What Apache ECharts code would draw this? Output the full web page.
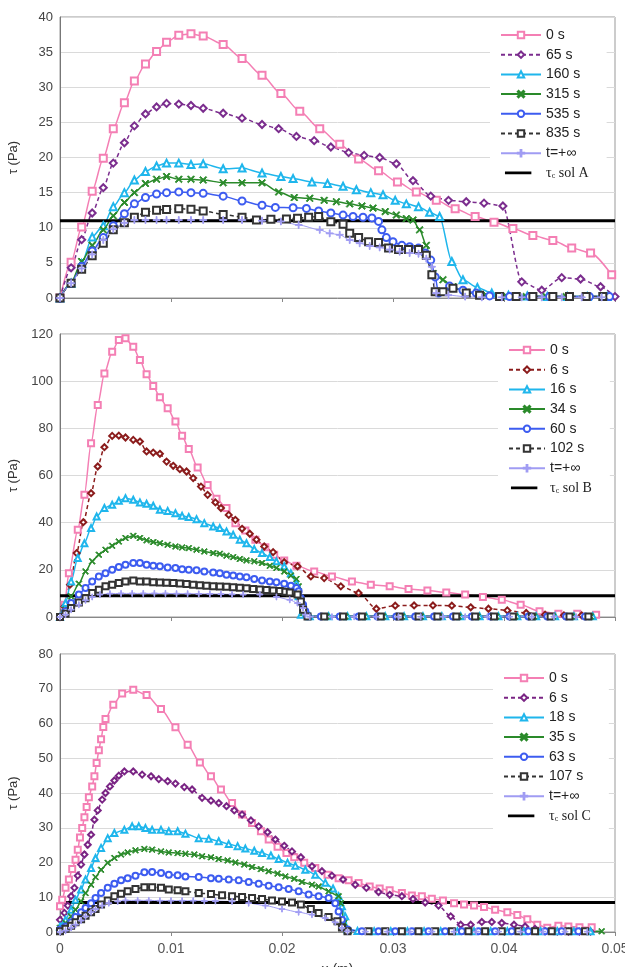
<!DOCTYPE html>
<html>
<head>
<meta charset="utf-8">
<script src="https://cdn.jsdelivr.net/npm/echarts@6/dist/echarts.min.js"></script>
<style>
  html, body { margin: 0; padding: 0; background: #fff; }
  #tauA { width: 625px; height: 310px; }
  #tauB { width: 625px; height: 320px; }
  #tauC { width: 625px; height: 337px; }
</style>
</head>
<body>
<div id="tauA"></div>
<div id="tauB"></div>
<div id="tauC"></div>
<script>
// ---- sol A ---- x (m), tau (Pa)
var namesA = ['0 s', '65 s', '160 s', '315 s', '535 s', '835 s', 't=+∞'];
var a0 = [[0,0],[0.001,5.1],[0.00195,10.1],[0.0029,15.2],[0.0039,19.9],[0.0048,24.1],[0.0058,27.8],[0.0067,30.9],[0.0077,33.3],[0.0087,35.1],[0.0096,36.4],[0.0107,37.4],[0.0118,37.6],[0.0129,37.3],[0.0147,36.1],[0.0164,34.1],[0.0182,31.7],[0.0199,29.1],[0.0216,26.6],[0.0234,24.1],[0.0252,21.9],[0.0269,19.8],[0.0287,18.1],[0.0304,16.5],[0.0321,15.1],[0.0339,13.9],[0.0356,12.7],[0.0374,11.6],[0.0391,10.8],[0.0408,9.9],[0.0426,8.9],[0.0444,8.2],[0.0461,7.1],[0.0478,6.4],[0.0497,3.3]];
var a65 = [[0,0],[0.001,4.3],[0.00195,8.3],[0.0029,12.1],[0.0039,15.7],[0.0048,19.2],[0.0058,22.1],[0.0067,24.5],[0.0077,26.2],[0.0087,27.2],[0.0096,27.7],[0.0107,27.6],[0.0118,27.4],[0.0129,27.0],[0.0147,26.3],[0.0164,25.6],[0.0182,24.7],[0.0197,24.1],[0.0213,23.0],[0.0229,22.4],[0.0244,21.5],[0.026,20.7],[0.0274,20.3],[0.0288,20.0],[0.0303,19.1],[0.0318,16.7],[0.0334,14.5],[0.035,13.9],[0.0366,13.7],[0.0382,13.5],[0.0399,13.1],[0.0416,2.3],[0.0434,1.1],[0.0452,2.9],[0.0469,2.7],[0.0487,1.6],[0.05,0.2]];
var a160 = [[0,0],[0.001,2.1],[0.00195,4.9],[0.0029,8.7],[0.0039,10.3],[0.0048,13.0],[0.0058,15.0],[0.0067,16.8],[0.0077,18.0],[0.0087,18.8],[0.0096,19.2],[0.0107,19.2],[0.0118,19.0],[0.0129,19.1],[0.0147,18.4],[0.0164,18.5],[0.0182,17.8],[0.0199,17.3],[0.021,17.0],[0.0227,16.5],[0.0241,16.3],[0.0255,15.9],[0.0267,15.4],[0.028,15.0],[0.0291,14.7],[0.0302,13.9],[0.0312,13.4],[0.0323,13.0],[0.0333,12.2],[0.0342,11.6],[0.0353,5.2],[0.0363,2.6],[0.0376,1.5],[0.0389,0.7],[0.0404,0.4],[0.0421,0.3],[0.0439,0.2],[0.0457,0.2],[0.0475,0.2],[0.0493,0.2]];
var a315 = [[0,0],[0.001,2.2],[0.00195,5.2],[0.0029,7.5],[0.0039,9.7],[0.0048,11.7],[0.0058,13.6],[0.0067,15.0],[0.0077,16.3],[0.0087,16.9],[0.0096,17.3],[0.0107,16.9],[0.0118,16.9],[0.0129,16.8],[0.0147,16.4],[0.0164,16.4],[0.0182,16.4],[0.0197,15.1],[0.0211,14.3],[0.0225,14.2],[0.0238,13.9],[0.0249,13.7],[0.0261,13.4],[0.0272,13.1],[0.0282,12.8],[0.0293,12.3],[0.0303,11.8],[0.0312,11.3],[0.0318,11.1],[0.0324,9.7],[0.033,7.5],[0.0336,3.5],[0.0345,2.6],[0.0354,1.6],[0.0366,0.8],[0.0384,0.4],[0.0402,0.3],[0.042,0.2],[0.0438,0.2],[0.0456,0.2],[0.0474,0.2],[0.0492,0.2]];
var a535 = [[0,0],[0.001,2.1],[0.00195,4.5],[0.0029,6.7],[0.0039,8.6],[0.0048,10.3],[0.0058,12.0],[0.0067,13.4],[0.0077,14.3],[0.0087,14.8],[0.0096,15.0],[0.0107,15.1],[0.0118,15.0],[0.0129,14.9],[0.0147,14.5],[0.0164,13.8],[0.0182,13.2],[0.0194,12.9],[0.021,12.85],[0.0222,12.75],[0.0233,12.4],[0.0244,12.1],[0.0255,11.8],[0.0264,11.6],[0.0273,11.5],[0.0281,11.4],[0.0287,10.9],[0.029,9.7],[0.0294,8.6],[0.03,8.0],[0.0308,7.5],[0.0315,7.3],[0.0323,7.1],[0.0329,6.4],[0.0334,5.4],[0.0338,3.0],[0.0341,0.7],[0.0351,1.7],[0.0363,1.1],[0.0375,0.7],[0.0387,0.3],[0.0405,0.2],[0.0423,0.2],[0.0441,0.2],[0.0459,0.2],[0.0477,0.2],[0.0495,0.2]];
var a835 = [[0,0],[0.001,2.1],[0.00195,4.1],[0.0029,6.0],[0.0039,7.8],[0.0048,9.7],[0.0058,10.7],[0.0067,11.5],[0.0077,12.2],[0.0087,12.5],[0.0096,12.6],[0.0107,12.7],[0.0118,12.65],[0.0129,12.4],[0.0147,11.9],[0.0164,11.5],[0.0177,11.1],[0.019,11.2],[0.0204,11.25],[0.0214,11.35],[0.0224,11.5],[0.0233,11.6],[0.0244,10.85],[0.0255,10.5],[0.0261,9.2],[0.0269,8.6],[0.0278,8.0],[0.0287,7.9],[0.0296,7.1],[0.0305,6.9],[0.0314,6.9],[0.0323,6.9],[0.033,6.1],[0.0335,3.3],[0.0338,0.9],[0.0345,0.9],[0.0354,1.4],[0.0366,0.7],[0.0378,0.4],[0.0396,0.2],[0.0411,0.2],[0.0426,0.2],[0.0444,0.2],[0.0459,0.2],[0.0474,0.2],[0.0489,0.2]];
var aInf = [[0,0],[0.001,2.1],[0.00195,4.2],[0.0029,6.2],[0.0039,8.25],[0.0048,9.8],[0.0058,10.7],[0.0067,11.1],[0.0077,11.1],[0.0087,11.1],[0.0096,11.1],[0.0107,11.1],[0.0118,11.1],[0.0129,11.1],[0.0147,11.1],[0.0164,11.1],[0.0182,11.0],[0.0199,10.9],[0.0215,10.4],[0.0234,9.7],[0.0243,9.2],[0.0252,9.0],[0.0261,8.25],[0.027,7.8],[0.0279,7.4],[0.0288,7.2],[0.0297,6.9],[0.0306,6.6],[0.0315,6.4],[0.0323,6.3],[0.033,5.6],[0.0335,4.45],[0.0339,0.7],[0.035,0.4],[0.0365,0.2],[0.038,0.1],[0.0398,0.1],[0.0416,0.1],[0.0434,0.1],[0.0452,0.1],[0.047,0.1],[0.0488,0.1]];
var tauA = [[0, 11], [0.05, 11]];

// ---- sol B ----
var namesB = ['0 s', '6 s', '16 s', '34 s', '60 s', '102 s', 't=+∞'];
var b0 = [[0,0],[0.0004,5.2],[0.0008,18.6],[0.0016,37],[0.0022,51.8],[0.0028,73.7],[0.0034,89.9],[0.004,103.3],[0.0047,112.5],[0.0053,117.5],[0.0059,118.2],[0.0066,114.6],[0.0072,109],[0.0078,102.9],[0.0084,98],[0.009,93.2],[0.0097,88.5],[0.0104,82.9],[0.011,76.9],[0.0116,71.2],[0.0124,63.4],[0.0133,56],[0.0141,50.1],[0.015,46.2],[0.0158,39.8],[0.0167,36.7],[0.0176,32.8],[0.0185,29.6],[0.0193,26.4],[0.0202,24],[0.0213,21.7],[0.0229,19.3],[0.0245,17.2],[0.0263,15.1],[0.028,13.7],[0.0297,13],[0.0314,11.9],[0.0331,11.2],[0.0348,10.4],[0.0365,9.5],[0.0381,8.5],[0.0398,7.3],[0.0415,5.2],[0.0432,2.4],[0.0449,1.4],[0.0466,1.4],[0.0483,1.0]];
var b6 = [[0,0],[0.0004,4.5],[0.0009,13.7],[0.0015,27.1],[0.0021,40.2],[0.0028,52.5],[0.0034,63.8],[0.004,72],[0.0047,76.8],[0.0053,76.9],[0.0059,76.1],[0.0066,75.1],[0.0072,74.4],[0.0078,70.2],[0.0084,69.7],[0.009,69.2],[0.0096,65.9],[0.0102,64.1],[0.0108,62.7],[0.0114,61.7],[0.012,58.9],[0.0127,55.3],[0.0133,51.8],[0.014,48.6],[0.0145,46.2],[0.0152,43.3],[0.0158,41.2],[0.0164,37.4],[0.0171,35.3],[0.0177,32.8],[0.0184,29.9],[0.0192,27.5],[0.0202,23.2],[0.0214,21.5],[0.0226,17.2],[0.0238,16.5],[0.0253,13],[0.0269,10.2],[0.0285,3.5],[0.0302,4.8],[0.0319,4.9],[0.0336,4.9],[0.0353,4.8],[0.037,4.1],[0.0386,3.5],[0.0403,2.8],[0.042,1.7],[0.0437,1.0],[0.0454,0.7],[0.047,0.7]];
var b16 = [[0,0],[0.0005,5.9],[0.001,15.1],[0.0016,25],[0.0022,31.3],[0.0028,37.7],[0.0033,42.6],[0.004,46.2],[0.0047,47.6],[0.0053,49.3],[0.0059,50.4],[0.0066,49.7],[0.0072,48.6],[0.0078,48],[0.0084,47.2],[0.009,45.5],[0.0097,45],[0.0104,44],[0.011,42.9],[0.0116,42.4],[0.0123,41.5],[0.013,39.8],[0.0138,38.4],[0.0144,37.7],[0.015,36.3],[0.0156,34.9],[0.0162,32.8],[0.0168,31.3],[0.0175,28.8],[0.0182,27.1],[0.0189,25.4],[0.0195,23.6],[0.0202,21.5],[0.0208,18.6],[0.0213,14.4],[0.0215,8.8],[0.0217,1.0],[0.0225,0.3],[0.0242,0.3],[0.0259,0.3],[0.0276,0.3],[0.0293,0.3],[0.031,0.3],[0.0327,0.3],[0.0344,0.3],[0.0361,0.3],[0.0378,0.3],[0.0395,0.3],[0.0412,0.3],[0.0429,0.3],[0.0446,0.3],[0.0463,0.3],[0.048,0.3]];
var b34 = [[0,0],[0.0005,3.1],[0.001,8.8],[0.0017,14.1],[0.0023,19.3],[0.0029,23.6],[0.0035,26.4],[0.0041,28.5],[0.0047,30.2],[0.0053,32],[0.0059,33.5],[0.0066,34.4],[0.0072,33.5],[0.0078,32.5],[0.0084,31.8],[0.009,31.3],[0.0097,30.6],[0.0104,29.9],[0.011,29.5],[0.0116,29.2],[0.0123,28.5],[0.013,27.8],[0.0138,27.1],[0.0144,26.8],[0.015,26],[0.0156,25.4],[0.0162,24.6],[0.0168,24],[0.0175,23.6],[0.0182,22.9],[0.0189,21.7],[0.0195,20.8],[0.0202,19.3],[0.0208,17.6],[0.0213,16.1],[0.0215,13],[0.0217,7.3],[0.0219,1.7],[0.0223,0.2],[0.024,0.2],[0.0257,0.2],[0.0274,0.2],[0.0291,0.2],[0.0308,0.2],[0.0325,0.2],[0.0342,0.2],[0.0359,0.2],[0.0376,0.2],[0.0393,0.2],[0.041,0.2],[0.0427,0.2],[0.0444,0.2],[0.0461,0.2],[0.0478,0.2]];
var b60 = [[0,0],[0.0005,2.4],[0.001,5.9],[0.0017,9.5],[0.0023,12.3],[0.0029,15.1],[0.0035,17.2],[0.0041,18.6],[0.0047,20],[0.0053,21.2],[0.0059,22.2],[0.0066,22.9],[0.0072,22.9],[0.0078,22.2],[0.0084,21.7],[0.009,21.5],[0.0097,21],[0.0104,20.8],[0.011,20.3],[0.0116,20],[0.0123,19.8],[0.013,19.3],[0.0138,18.9],[0.0144,18.6],[0.015,17.9],[0.0156,17.6],[0.0162,17.2],[0.0168,16.9],[0.0175,16.1],[0.0182,15.5],[0.0189,15.1],[0.0195,14.7],[0.0202,14.1],[0.0208,13.3],[0.0213,12.3],[0.0215,10.9],[0.0217,8],[0.0219,5.2],[0.0221,2.4],[0.0223,0.3],[0.0235,0.2],[0.0252,0.2],[0.0269,0.2],[0.0286,0.2],[0.0303,0.2],[0.032,0.2],[0.0337,0.2],[0.0354,0.2],[0.0371,0.2],[0.0388,0.2],[0.0405,0.2],[0.0422,0.2],[0.0439,0.2],[0.0456,0.2],[0.0473,0.2]];
var b102 = [[0,0],[0.0005,1.4],[0.001,3.8],[0.0017,6.2],[0.0023,8],[0.0029,10.2],[0.0035,11.6],[0.0041,13],[0.0047,13.7],[0.0053,14.4],[0.0059,15.1],[0.0066,15.5],[0.0072,15.1],[0.0078,15.1],[0.0084,14.7],[0.009,14.6],[0.0096,14.5],[0.0102,14.4],[0.0108,14.2],[0.0114,14],[0.012,13.7],[0.0126,13.5],[0.0132,13.3],[0.0138,13],[0.0144,12.9],[0.015,12.8],[0.0156,12.6],[0.0162,12.4],[0.0168,12.2],[0.0174,11.9],[0.018,11.7],[0.0186,11.5],[0.0192,11.2],[0.0198,11],[0.0203,10.7],[0.0207,10.4],[0.0214,9.5],[0.0217,6.6],[0.0219,3.1],[0.0223,0.2],[0.0238,0.2],[0.0255,0.2],[0.0272,0.2],[0.0289,0.2],[0.0306,0.2],[0.0323,0.2],[0.034,0.2],[0.0357,0.2],[0.0374,0.2],[0.0391,0.2],[0.0408,0.2],[0.0425,0.2],[0.0442,0.2],[0.0459,0.2],[0.0476,0.2]];
var bInf = [[0,0],[0.0005,1],[0.001,3.1],[0.0017,5.2],[0.0023,7.1],[0.0029,8.5],[0.0036,9.5],[0.0045,9.9],[0.0055,10],[0.0065,10],[0.0075,10],[0.0085,10],[0.0095,10],[0.0105,9.9],[0.0115,9.9],[0.0125,9.8],[0.0135,9.8],[0.0145,9.7],[0.0155,9.6],[0.0165,9.5],[0.018,9.5],[0.0195,8.5],[0.0207,7.3],[0.0214,5.9],[0.0219,3.8],[0.0221,1],[0.0225,0.1],[0.0245,0.1],[0.0265,0.1],[0.0285,0.1],[0.0305,0.1],[0.0325,0.1],[0.0345,0.1],[0.0365,0.1],[0.0385,0.1],[0.0405,0.1],[0.0425,0.1],[0.0445,0.1],[0.0465,0.1]];
var tauB = [[0, 9], [0.05, 9]];

// ---- sol C ----
var namesC = ['0 s', '6 s', '18 s', '35 s', '63 s', '107 s', 't=+∞'];
var c0 = [[0,7.4],[0.0002,9.3],[0.0005,12.7],[0.0008,15.1],[0.0011,18.1],[0.0014,20.8],[0.0016,23.7],[0.0018,27.2],[0.002,29.9],[0.0022,33],[0.0024,36],[0.0026,38.8],[0.0029,41.9],[0.0031,44.8],[0.0033,48.6],[0.0035,52.3],[0.0037,55.5],[0.0039,59],[0.0041,61.3],[0.0048,65.4],[0.0056,68.6],[0.0066,69.7],[0.0078,68.2],[0.0091,64.2],[0.0104,58.9],[0.0115,53.9],[0.0126,48.8],[0.0136,44.8],[0.0145,41],[0.0155,37.1],[0.0164,33.8],[0.0173,31.4],[0.0181,29],[0.0188,26.6],[0.0196,24.5],[0.0204,22.7],[0.0211,21.5],[0.022,19.9],[0.023,18.4],[0.0241,16.5],[0.0251,15.5],[0.026,14.9],[0.0269,14.1],[0.0279,13.1],[0.0288,12.5],[0.0297,12],[0.0308,11.2],[0.0317,10.5],[0.0326,10.3],[0.0335,9.6],[0.0345,9.1],[0.0355,8.3],[0.0364,7.9],[0.0373,7.6],[0.0382,7.2],[0.0392,6.4],[0.0403,5.7],[0.0412,4.9],[0.0421,3.7],[0.043,2.1],[0.0439,1.2],[0.0449,1.8],[0.0458,1.6],[0.0468,1.4],[0.0479,1.4]];
var c6 = [[0,3.5],[0.0004,5.5],[0.0007,7.6],[0.001,10.3],[0.0013,12.7],[0.0016,16.2],[0.0019,19.4],[0.0022,22.3],[0.0025,25.1],[0.0028,28],[0.0031,32.3],[0.0034,35],[0.0038,38.1],[0.0041,40],[0.0045,41.9],[0.0049,43.6],[0.0053,45],[0.0058,46.2],[0.0066,46.2],[0.0074,45.3],[0.0082,44.8],[0.0089,44],[0.0097,43.4],[0.0104,42.7],[0.0112,41.7],[0.0119,41],[0.0128,38.6],[0.0136,37.8],[0.0143,37.1],[0.015,36.2],[0.0157,35],[0.0164,33.8],[0.0172,32.1],[0.0179,30.4],[0.0187,28.7],[0.0194,26.6],[0.0202,24.8],[0.0209,23.2],[0.0217,21.5],[0.0227,18.9],[0.0236,17.5],[0.0245,16.2],[0.0255,15.1],[0.0266,13.6],[0.0276,12.7],[0.0287,11.5],[0.0297,10.7],[0.0308,10.3],[0.0318,9.5],[0.0329,8.5],[0.0341,7.6],[0.0352,4.5],[0.0361,2.1],[0.037,2.1],[0.038,2.9],[0.0389,2.9],[0.0398,2.6],[0.0409,2.1],[0.0419,1.6],[0.0428,0.9],[0.0437,0.2],[0.0448,0.1],[0.0458,0.1],[0.0468,0.1],[0.0478,0.1]];
var c18 = [[0,1.6],[0.0005,3.5],[0.001,6.4],[0.0014,9.3],[0.0019,12.2],[0.0023,15.1],[0.0028,18.4],[0.0032,21.3],[0.0037,24.2],[0.0043,27],[0.0049,28.5],[0.0058,29.4],[0.0065,30.4],[0.0071,30.4],[0.0077,29.9],[0.0083,29.4],[0.0091,29.4],[0.0098,29],[0.0106,29],[0.0113,28.3],[0.0125,27],[0.0134,26.8],[0.0143,26.1],[0.0152,25.3],[0.016,24.7],[0.0167,24],[0.0175,23.4],[0.0182,22.7],[0.019,22],[0.0197,21],[0.0205,19.9],[0.0212,19.1],[0.0221,17.9],[0.023,16.5],[0.0239,14.2],[0.0246,12.5],[0.0251,10.3],[0.0254,7.4],[0.0257,4.5],[0.0259,0.7],[0.0268,0.3],[0.0283,0.2],[0.0298,0.2],[0.0313,0.2],[0.0328,0.2],[0.0343,0.2],[0.0358,0.2],[0.0373,0.2],[0.0388,0.2],[0.0403,0.2],[0.0418,0.2],[0.0433,0.2],[0.0448,0.2],[0.0463,0.2],[0.0478,0.2]];
var c35 = [[0,1.2],[0.0005,2.6],[0.001,4.5],[0.0014,6.4],[0.0019,8.8],[0.0023,11.2],[0.0028,13.6],[0.0032,15.8],[0.0037,17.9],[0.0043,19.9],[0.0049,21.3],[0.0055,22.3],[0.0061,22.9],[0.0068,23.5],[0.0076,23.9],[0.0083,23.7],[0.0091,23.2],[0.0098,22.9],[0.0106,22.7],[0.0113,22.5],[0.0121,22.3],[0.0128,21.8],[0.0136,21.5],[0.0143,21],[0.0151,20.6],[0.0158,20],[0.0166,19.4],[0.0173,18.7],[0.0181,18.1],[0.0188,17.5],[0.0196,16.8],[0.0203,16],[0.0211,15.3],[0.0218,14.4],[0.0227,13.6],[0.0233,13.1],[0.0242,11.7],[0.0251,10.3],[0.0253,8.3],[0.0256,2.6],[0.026,0.2],[0.0275,0.2],[0.029,0.2],[0.0305,0.2],[0.032,0.2],[0.0335,0.2],[0.035,0.2],[0.0365,0.2],[0.038,0.2],[0.0395,0.2],[0.041,0.2],[0.0425,0.2],[0.044,0.2],[0.0455,0.2],[0.047,0.2],[0.0488,0.2]];
var c63 = [[0,0.7],[0.0005,1.6],[0.001,2.8],[0.0014,4.3],[0.0019,5.7],[0.0023,6.9],[0.0028,8.3],[0.0032,9.8],[0.0037,11.2],[0.0043,12.7],[0.0049,13.9],[0.0055,14.9],[0.0061,15.5],[0.0068,16.2],[0.0076,17.2],[0.0083,17.3],[0.0091,17],[0.0098,16.5],[0.0106,16.3],[0.0113,16],[0.0125,15.8],[0.0136,15.5],[0.0143,15.3],[0.0152,15.1],[0.0161,14.9],[0.017,14.4],[0.0179,13.9],[0.0188,13.3],[0.0197,12.9],[0.0206,12.4],[0.0215,11.7],[0.0224,10.8],[0.0233,10.3],[0.0242,9.8],[0.0248,8.3],[0.0251,5.9],[0.0254,3.5],[0.0259,0.7],[0.0272,0.2],[0.0287,0.2],[0.0302,0.2],[0.0317,0.2],[0.0332,0.2],[0.0347,0.2],[0.0362,0.2],[0.0377,0.2],[0.0392,0.2],[0.0407,0.2],[0.0422,0.2],[0.0437,0.2],[0.0452,0.2],[0.0467,0.2]];
var c107 = [[0,0.2],[0.0005,0.9],[0.001,1.8],[0.0014,2.8],[0.0019,3.7],[0.0023,4.7],[0.0028,5.7],[0.0032,6.6],[0.0037,7.9],[0.0043,9.1],[0.0049,10.3],[0.0055,11],[0.0061,11.7],[0.0068,12.4],[0.0076,12.9],[0.0083,12.9],[0.0091,12.7],[0.0098,12.2],[0.0106,12],[0.0113,11.7],[0.0125,11.2],[0.0136,10.9],[0.0146,10.6],[0.0155,10.3],[0.0164,10.1],[0.0173,9.8],[0.0182,9.5],[0.0191,9.1],[0.02,8.8],[0.0209,8.5],[0.0217,7.9],[0.0226,6.6],[0.0233,5.5],[0.0242,4.3],[0.025,3.1],[0.0254,1.3],[0.0259,0.2],[0.0278,0.2],[0.0293,0.2],[0.0308,0.2],[0.0323,0.2],[0.0338,0.2],[0.0353,0.2],[0.0368,0.2],[0.0383,0.2],[0.0398,0.2],[0.0413,0.2],[0.0428,0.2],[0.0443,0.2],[0.0458,0.2],[0.0473,0.2]];
var cInf = [[0,0],[0.0005,0.4],[0.001,1.2],[0.0014,2.1],[0.0019,3.3],[0.0023,4.5],[0.0028,5.7],[0.0032,6.6],[0.0038,7.6],[0.0044,8.3],[0.0052,8.8],[0.0059,9.1],[0.007,9.1],[0.008,9.1],[0.009,9.0],[0.01,9.0],[0.011,9.0],[0.012,9.0],[0.013,8.9],[0.014,8.9],[0.0155,8.8],[0.017,8.3],[0.0185,7.6],[0.02,6.6],[0.0215,5.7],[0.0227,5],[0.0239,4],[0.0248,2.8],[0.0254,1.2],[0.0259,0.2],[0.0275,0.1],[0.0295,0.1],[0.0315,0.1],[0.0335,0.1],[0.0355,0.1],[0.0375,0.1],[0.0395,0.1],[0.0415,0.1],[0.0435,0.1],[0.0455,0.1],[0.0475,0.1]];
var tauC = [[0, 8.5], [0.05, 8.5]];

// marker shapes for the x and + symbols
var X_MARK = 'path://M0,1.2L1.2,0L5,3.8L8.8,0L10,1.2L6.2,5L10,8.8L8.8,10L5,6.2L1.2,10L0,8.8L3.8,5Z';
var PLUS_MARK = 'path://M4.4,0H5.6V4.4H10V5.6H5.6V10H4.4V5.6H0V4.4H4.4Z';
// thick short bar for the tau_c legend entry (tiny end points keep the box size)
var BAR_ICON = 'path://M0,0L0.1,0L0,0ZM0,3.3H33V6.7H0ZM40,10L40.1,10L40,10Z';

function looks(secondColor) {
  return [
    { color: '#f47fb4', symbol: 'emptyRect', dash: 'solid', w: 1.5 },
    { color: secondColor, symbol: 'emptyDiamond', dash: [4, 3], w: 1.5 },
    { color: '#1fb6ec', symbol: 'emptyTriangle', dash: 'solid', w: 1.5 },
    { color: '#2a8a2a', symbol: X_MARK, dash: 'solid', w: 1.5 },
    { color: '#3d5cf0', symbol: 'emptyCircle', dash: 'solid', w: 1.5 },
    { color: '#333333', symbol: 'emptyRect', dash: [4, 3], w: 1.5 },
    { color: '#a09cf3', symbol: PLUS_MARK, dash: 'solid', w: 1 }
  ];
}

function drawChart(id, cfg) {
  var chart = echarts.init(document.getElementById(id));
  var st = looks(cfg.second);
  var series = cfg.data.map(function (d, i) {
    return {
      name: cfg.names[i],
      type: 'line',
      data: d,
      smooth: 0.25,
      smoothMonotone: 'x',
      symbol: st[i].symbol,
      symbolSize: cfg.mark,
      showAllSymbol: true,
      lineStyle: { color: st[i].color, width: st[i].w, type: st[i].dash },
      itemStyle: { color: st[i].color, borderColor: st[i].color, borderWidth: 1 },
      emphasis: { disabled: true }
    };
  });
  series.push({
    name: cfg.tauName,
    type: 'line',
    data: cfg.tau,
    symbol: 'none',
    lineStyle: { color: '#000', width: 3 },
    itemStyle: { color: '#000' },
    emphasis: { disabled: true }
  });
  var legendData = cfg.names.map(function (n) { return { name: n }; });
  legendData.push({ name: cfg.tauName, icon: BAR_ICON, itemStyle: { color: '#000' } });
  chart.setOption({
    animation: false,
    grid: {
      left: 60, right: 10, top: cfg.top, height: cfg.height,
      outerBoundsMode: 'none',
      show: true, borderColor: '#999', borderWidth: 1
    },
    legend: {
      data: legendData,
      orient: 'vertical',
      left: cfg.legLeft,
      top: cfg.legTop,
      itemWidth: cfg.legW,
      itemHeight: 8,
      itemGap: 5.7,
      padding: [8, 18, 8, 10],
      backgroundColor: '#fff',
      textStyle: {
        fontFamily: 'Liberation Sans', fontSize: 14, color: '#222', lineHeight: 14,
        rich: {
          t: { fontFamily: 'Liberation Serif', fontSize: 14, color: '#222', lineHeight: 14 },
          s: { fontFamily: 'Liberation Serif', fontSize: 8, color: '#222', lineHeight: 14, verticalAlign: 'bottom', padding: [6, 0, 0, 0] }
        }
      },
      formatter: function (name) {
        if (name.charAt(0) === 'τ') return '{t|τ}{s|c}{t|' + name.slice(2) + '}';
        return name;
      }
    },
    xAxis: {
      type: 'value', min: 0, max: 0.05, interval: 0.01,
      name: cfg.showX ? 'x (m)' : '',
      nameLocation: 'middle', nameGap: 31,
      nameTextStyle: { fontFamily: 'Liberation Sans', fontSize: 14, color: '#333' },
      axisLine: { lineStyle: { color: '#888' } },
      axisTick: { show: true, length: 4, lineStyle: { color: '#888' } },
      axisLabel: { show: cfg.showX, margin: 10, fontFamily: 'Liberation Sans', fontSize: 14, color: '#555' },
      splitLine: { show: false }
    },
    yAxis: {
      type: 'value', min: 0, max: cfg.yMax, interval: cfg.yStep,
      name: 'τ (Pa)', nameLocation: 'middle', nameGap: 40,
      nameTextStyle: { fontFamily: 'Liberation Sans', fontSize: 13, color: '#333' },
      axisLine: { show: true, lineStyle: { color: '#777' } },
      axisTick: { show: false },
      axisLabel: { margin: 7, fontFamily: 'Liberation Sans', fontSize: 13, color: '#444' },
      splitLine: { lineStyle: { color: '#dadada' } }
    },
    series: series
  });
}

drawChart('tauA', {
  names: namesA, data: [a0, a65, a160, a315, a535, a835, aInf],
  tau: tauA, tauName: 'τc sol A', second: '#7b2d8e',
  top: 17, height: 281, yMax: 40, yStep: 5, mark: 7,
  legLeft: 490, legTop: 20, legW: 40, showX: false
});
drawChart('tauB', {
  names: namesB, data: [b0, b6, b16, b34, b60, b102, bInf],
  tau: tauB, tauName: 'τc sol B', second: '#8b1c1c',
  top: 24, height: 283, yMax: 120, yStep: 20, mark: 6,
  legLeft: 498, legTop: 25, legW: 36, showX: false
});
drawChart('tauC', {
  names: namesC, data: [c0, c6, c18, c35, c63, c107, cInf],
  tau: tauC, tauName: 'τc sol C', second: '#7a2484',
  top: 24, height: 278, yMax: 80, yStep: 10, mark: 6,
  legLeft: 493, legTop: 33, legW: 40, showX: true
});
</script>
</body>
</html>
